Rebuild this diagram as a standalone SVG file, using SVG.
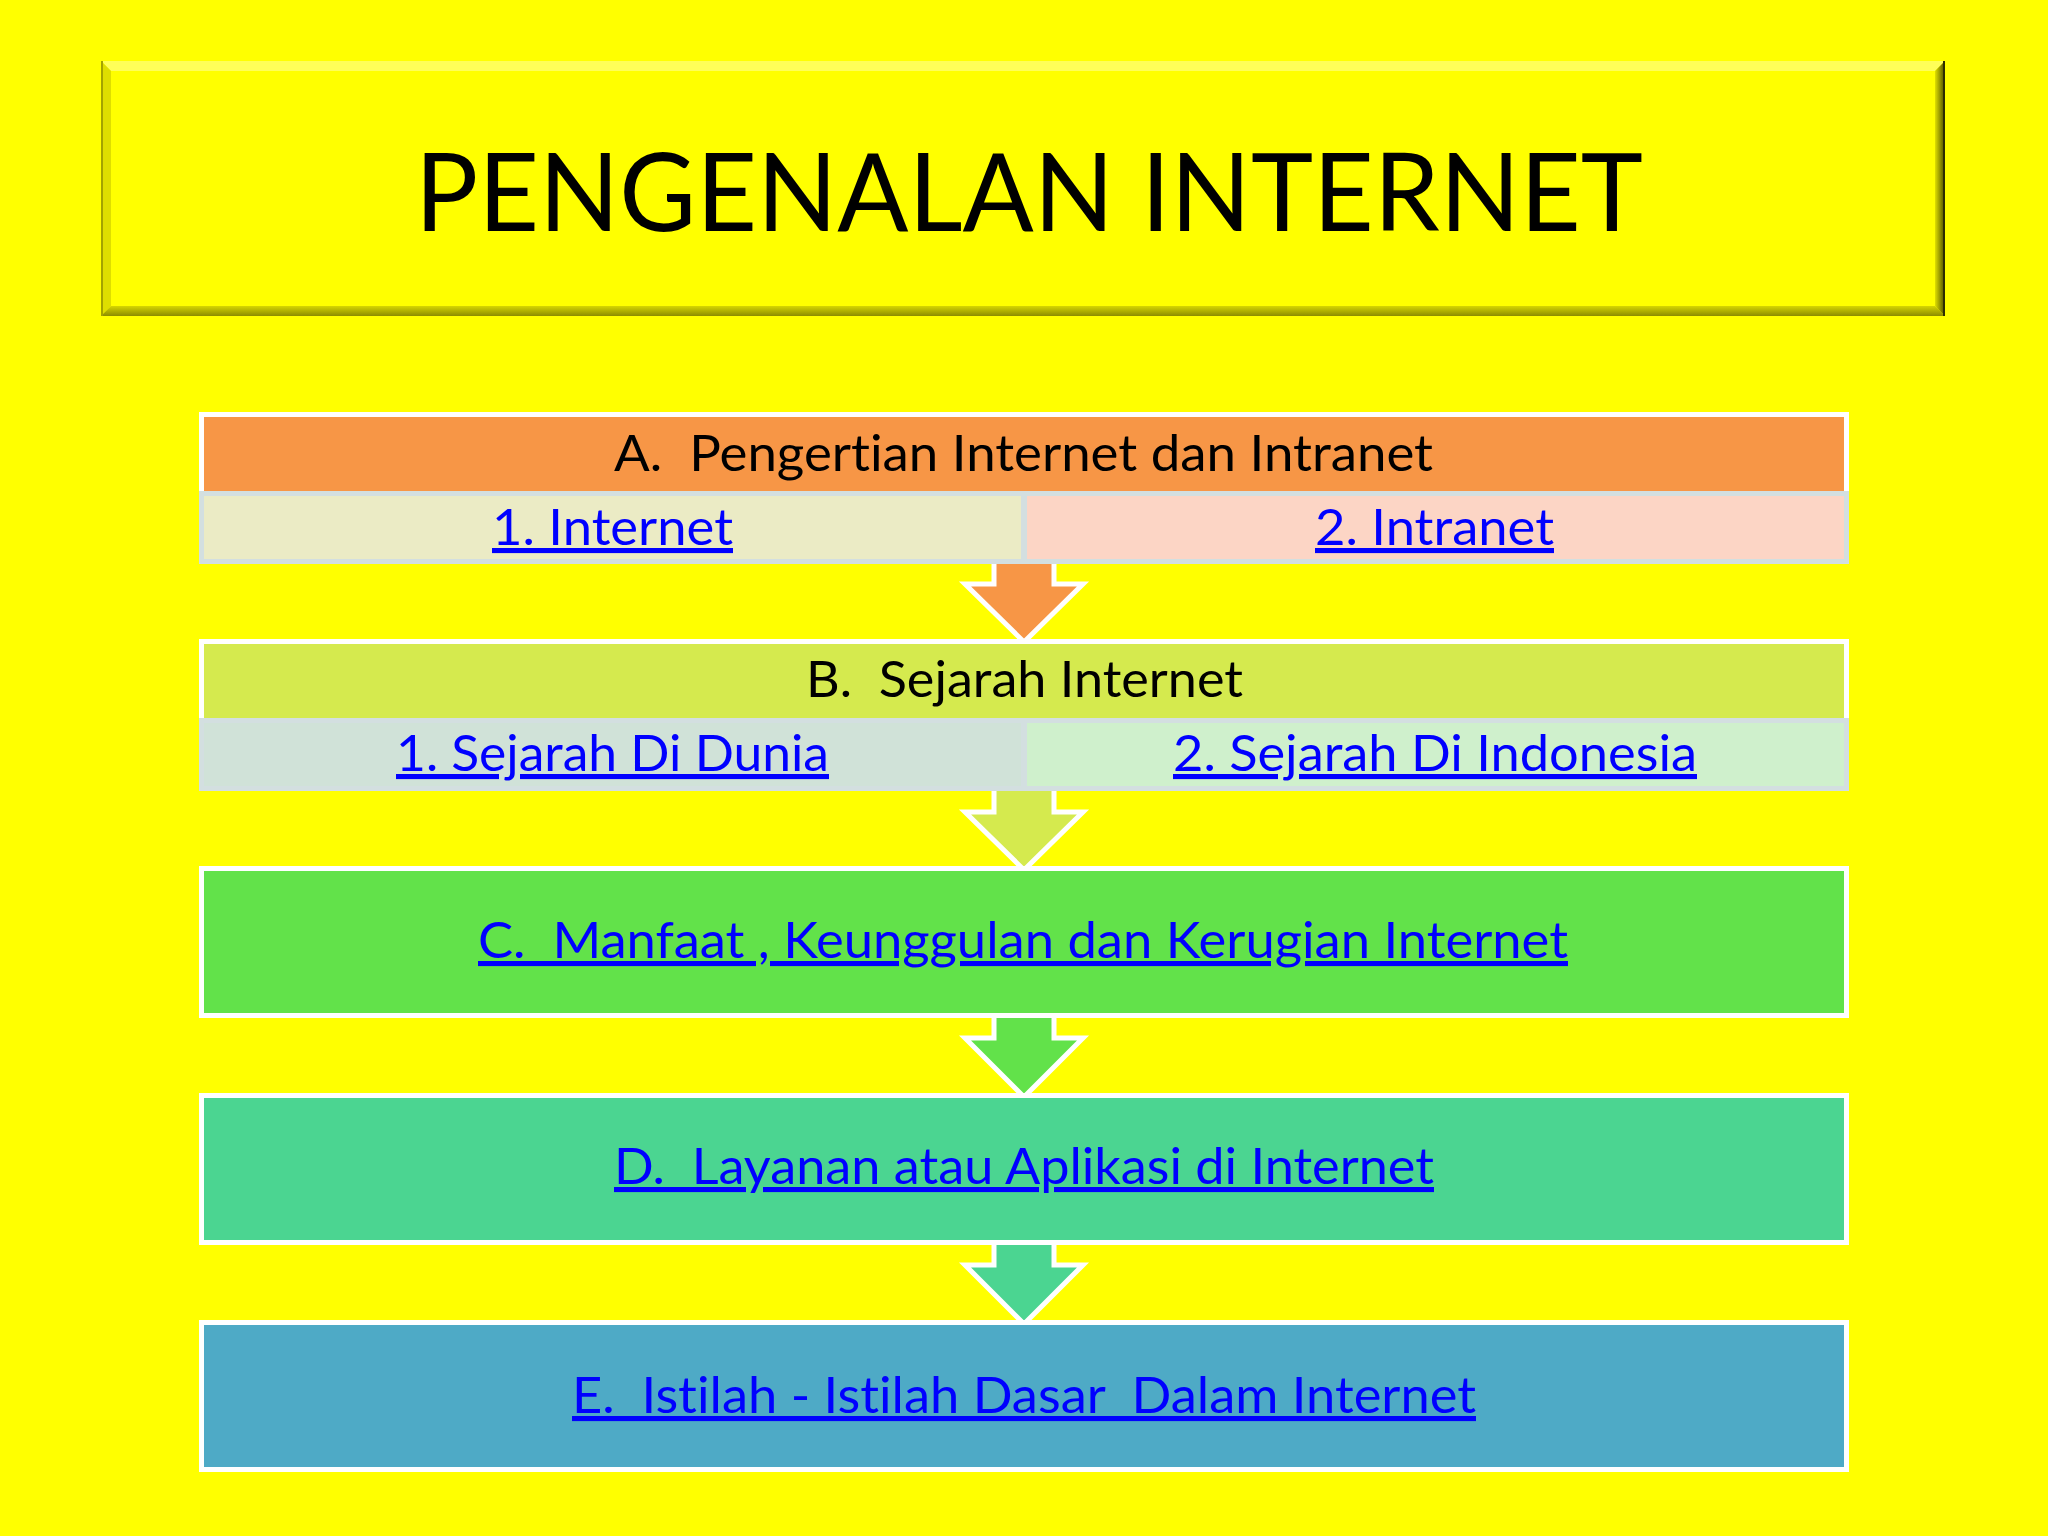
<svg xmlns="http://www.w3.org/2000/svg" width="2048" height="1536" viewBox="0 0 2048 1536">
<defs>
<style>
text{white-space:pre;font-variant-ligatures:none;font-feature-settings:"liga" 0}
.hdr{font-family:Lato,"Open Sans","Liberation Sans",sans-serif;font-size:51px;fill:#000000}
.lnk{font-family:Lato,"Open Sans","Liberation Sans",sans-serif;font-size:51px;fill:#0000ff;text-decoration:underline}
.ttl{font-family:Lato,"Open Sans","Liberation Sans",sans-serif;font-size:109px;fill:#000000}
.frame{stroke:#ffffff;stroke-width:5}
.cellbg{fill:#d3dfe0}
.arrow{stroke:#ffffff;stroke-width:5;stroke-linejoin:miter}
</style>
<linearGradient id="rightBevel" x1="0" y1="0" x2="1" y2="0">
<stop offset="0" stop-color="#e0e000"/>
<stop offset="1" stop-color="#4a4a00"/>
</linearGradient>
<linearGradient id="bottomBevel" x1="0" y1="0" x2="0" y2="1">
<stop offset="0" stop-color="#d6d600"/>
<stop offset="1" stop-color="#8c8c00"/>
</linearGradient>
</defs>
<rect x="0" y="0" width="2048" height="1536" fill="#ffff00"/>

<g id="title">
<rect x="101" y="61" width="1844" height="255" fill="#ffff00"/>
<polygon points="101,61 1945,61 1935,71 111,71" fill="#ffff59"/>
<polygon points="101,61 111,71 111,306 101,316" fill="#dede00"/>
<polygon points="101,316 111,306 1935,306 1945,316" fill="url(#bottomBevel)"/>
<polygon points="1945,61 1945,316 1935,306 1935,71" fill="url(#rightBevel)"/>
<line x1="102" y1="61" x2="102" y2="316" stroke="#a3a300" stroke-width="2"/>
<line x1="1944" y1="61" x2="1944" y2="316" stroke="#2e2e00" stroke-width="2"/>
<text class="ttl" x="415" y="231" textLength="1228" lengthAdjust="spacingAndGlyphs">PENGENALAN INTERNET</text>
</g>

<g id="connectors">
<polygon class="arrow" fill="#f79646" points="994,560 1054,560 1054,584 1083,584 1024,642 965,584 994,584"/>
<polygon class="arrow" fill="#d5ea4e" points="994,787 1054,787 1054,812 1083,812 1024,870 965,812 994,812"/>
<polygon class="arrow" fill="#62e24a" points="994,1014 1054,1014 1054,1038 1083,1038 1024,1097 965,1038 994,1038"/>
<polygon class="arrow" fill="#4bd591" points="994,1241 1054,1241 1054,1265 1083,1265 1024,1324 965,1265 994,1265"/>
</g>

<g id="nodeA">
<rect class="frame" x="201.5" y="414.5" width="1645" height="80" fill="#f79646"/>
<rect class="cellbg" x="199" y="491" width="1650" height="73"/>
<rect x="204" y="496" width="817" height="63" fill="#ebebc5"/>
<rect x="1027" y="496" width="817" height="63" fill="#fcd5c5"/>
<text class="hdr" x="614" y="471" textLength="819" lengthAdjust="spacingAndGlyphs">A.  Pengertian Internet dan Intranet</text>
<text class="lnk" x="492" y="545" textLength="241" lengthAdjust="spacingAndGlyphs">1. Internet</text>
<text class="lnk" x="1315" y="545" textLength="239" lengthAdjust="spacingAndGlyphs">2. Intranet</text>
</g>

<g id="nodeB">
<rect class="frame" x="201.5" y="641.5" width="1645" height="80" fill="#d5ea4e"/>
<rect class="cellbg" x="199" y="718" width="1650" height="73"/>
<rect x="204" y="723" width="817" height="63" fill="#d0e2d8"/>
<rect x="1027" y="723" width="817" height="63" fill="#cff0cc"/>
<text class="hdr" x="806" y="697" textLength="437" lengthAdjust="spacingAndGlyphs">B.  Sejarah Internet</text>
<text class="lnk" x="396" y="771" textLength="433" lengthAdjust="spacingAndGlyphs">1. Sejarah Di Dunia</text>
<text class="lnk" x="1173" y="771" textLength="524" lengthAdjust="spacingAndGlyphs">2. Sejarah Di Indonesia</text>
</g>

<g id="nodeC">
<rect class="frame" x="201.5" y="868.5" width="1645" height="147" fill="#62e24a"/>
<text class="lnk" x="478" y="958" textLength="1090" lengthAdjust="spacingAndGlyphs">C.  Manfaat , Keunggulan dan Kerugian Internet</text>
</g>

<g id="nodeD">
<rect class="frame" x="201.5" y="1095.5" width="1645" height="147" fill="#4bd591"/>
<text class="lnk" x="614" y="1184" textLength="820" lengthAdjust="spacingAndGlyphs">D.  Layanan atau Aplikasi di Internet</text>
</g>

<g id="nodeE">
<rect class="frame" x="201.5" y="1322.5" width="1645" height="147" fill="#4eaac6"/>
<text class="lnk" x="572" y="1413" textLength="904" lengthAdjust="spacingAndGlyphs">E.  Istilah - Istilah Dasar  Dalam Internet</text>
</g>
</svg>
